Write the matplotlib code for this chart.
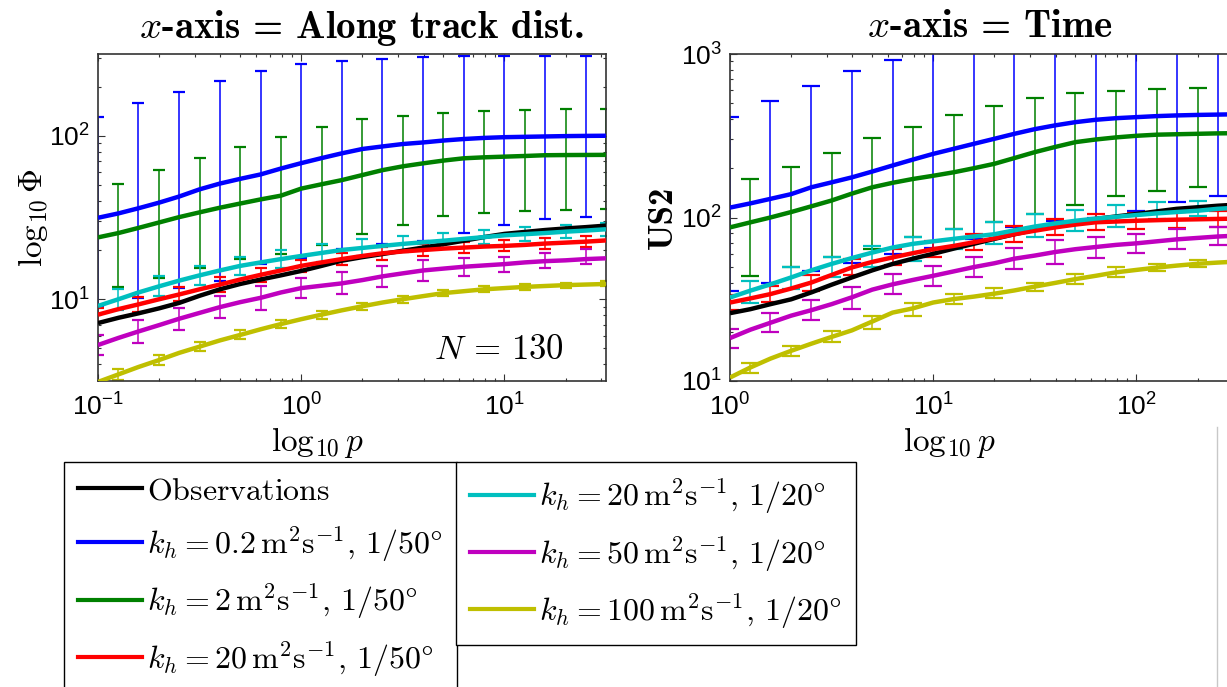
"""
Along-track vs time structure functions for the diffusivity runs.
"""

import numpy as np
import matplotlib.pyplot as plt
from matplotlib.lines import Line2D

plt.rcParams['font.family'] = 'Liberation Sans'
plt.rcParams['mathtext.fontset'] = 'cm'

# p grid, 0.1 decade steps
p_left = [0.1, 0.126, 0.158, 0.2, 0.251, 0.316, 0.398, 0.501, 0.631, 0.794,
          1.0, 1.26, 1.58, 2.0, 2.51, 3.16, 3.98, 5.01, 6.31, 7.94,
          10.0, 12.6, 15.8, 20.0, 25.1, 31.6]
p_right = [1.0, 1.26, 1.58, 2.0, 2.51, 3.16, 3.98, 5.01, 6.31, 7.94,
           10.0, 12.6, 15.8, 20.0, 25.1, 31.6, 39.8, 50.1, 63.1, 79.4,
           100.0, 126.0, 158.0, 200.0, 251.0, 316.0]

labels = [r'$\mathrm{Observations}$',
          r'$k_h = 0.2\,\mathrm{m^2s^{-1}},\,1/50\degree$',
          r'$k_h = 2\,\mathrm{m^2s^{-1}},\,1/50\degree$',
          r'$k_h = 20\,\mathrm{m^2s^{-1}},\,1/50\degree$',
          r'$k_h = 20\,\mathrm{m^2s^{-1}},\,1/20\degree$',
          r'$k_h = 50\,\mathrm{m^2s^{-1}},\,1/20\degree$',
          r'$k_h = 100\,\mathrm{m^2s^{-1}},\,1/20\degree$']
colors = ['k', '#0000ff', '#008000', '#ff0000', '#00bfbf', '#bf00bf', '#bfbf00']

# ---- left panel: x-axis = along track distance
obs_L = [7.15, 7.7, 8.2, 8.8, 9.5, 10.5, 11.5, 12.4, 13.2, 14.0, 14.9, 16.0, 17.2,
         18.1, 18.9, 19.8, 20.7, 21.7, 22.8, 24.0, 25.1, 25.8, 26.5, 27.1, 27.6, 28.2]
blue_L = [31.5, 33.5, 36, 39, 42.5, 47, 51, 54.5, 58, 63, 68, 73, 78,
          83, 86, 89, 91, 93.5, 95.5, 97, 98, 98.5, 99, 99.5, 99.8, 100]
green_L = [23.9, 25.4, 27.3, 29.5, 31.8, 34, 36.3, 38.5, 40.8, 43, 47.5, 50.5, 53.5,
           57.5, 61.6, 65, 67.8, 70.5, 72.8, 73.8, 74.5, 75.2, 76, 76.2, 76.3, 76.4]
red_L = [8.05, 8.7, 9.3, 10.0, 10.7, 11.5, 12.3, 13.2, 14.1, 15.0, 16.0, 16.8, 17.6,
         18.4, 19.1, 19.6, 20.0, 20.4, 20.7, 21.0, 21.2, 21.5, 21.9, 22.2, 22.5, 22.9]
cyan_L = [9.1, 10.0, 11.0, 12.0, 13.0, 14.0, 15.0, 16.0, 16.8, 17.6, 18.4, 19.2, 20.0,
          20.6, 21.2, 21.8, 22.3, 22.8, 23.4, 24.0, 24.6, 25.0, 25.4, 25.9, 26.3, 26.8]
mag_L = [5.25, 5.8, 6.35, 6.95, 7.6, 8.25, 8.95, 9.6, 10.2, 11.0, 11.7, 12.1, 12.5,
         13.1, 13.8, 14.4, 15.0, 15.4, 15.8, 16.1, 16.4, 16.8, 17.1, 17.3, 17.6, 17.8]
yel_L = [3.12, 3.47, 3.85, 4.25, 4.7, 5.13, 5.6, 6.05, 6.55, 7.05, 7.55, 8.05, 8.55,
         9.06, 9.55, 10.0, 10.45, 10.9, 11.2, 11.5, 11.7, 11.9, 12.05, 12.2, 12.3, 12.4]

# error bar ends (blue/red/magenta on even grid points, green/cyan/yellow on odd)
blue_L_lo = [9, 10.2, 11.7, 12.9, 16.4, 18, 20.3, 21.8, 22.8, 25.5, 28.6, 30.8, 31.7]
blue_L_hi = [131, 158, 185, 216, 249, 273, 286, 295, 302, 306, 309, 309, 309]
green_L_lo = [11.8, 13.5, 15.6, 17.6, 18.9, 21.5, 25, 28.5, 32.5, 33.5, 34.6, 35.3, 35.8]
green_L_hi = [51, 62, 73.5, 85, 98, 113, 126, 133, 138, 141, 143, 145, 146]
red_L_lo = [7.3, 8.4, 9.7, 11.1, 12.8, 14.6, 16.1, 17.5, 18.4, 19.1, 19.6, 20.3, 20.9]
red_L_hi = [8.9, 10.3, 11.8, 13.6, 15.5, 17.5, 19.2, 20.8, 21.7, 22.4, 22.9, 23.6, 24.2]
cyan_L_lo = [8.6, 10.4, 12.2, 14.0, 15.5, 17.0, 18.3, 19.5, 20.5, 21.7, 22.7, 23.6, 24.5]
cyan_L_hi = [11.6, 13.8, 16.0, 18.2, 20.0, 21.7, 23.2, 24.5, 25.4, 26.5, 27.5, 28.3, 29.2]
mag_L_lo = [4.56, 5.4, 6.5, 7.7, 8.6, 10.2, 10.7, 11.9, 13.0, 13.9, 14.7, 15.6, 16.4]
mag_L_hi = [6.05, 7.5, 8.9, 10.4, 12.0, 13.5, 14.7, 16.0, 17.3, 18.0, 18.2, 19.3, 20.3]
yel_L_lo = [3.22, 3.97, 4.8, 5.68, 6.65, 7.62, 8.6, 9.53, 10.42, 11.0, 11.45, 11.75, 12.0]
yel_L_hi = [3.72, 4.55, 5.48, 6.44, 7.47, 8.5, 9.55, 10.5, 11.4, 12.0, 12.4, 12.65, 12.85]

# ---- right panel: x-axis = time
obs_R = [26, 27.5, 29.5, 31.6, 34.8, 38.8, 43, 47.5, 52, 56, 60, 64.5, 69,
         74, 79, 84, 89, 93.5, 98, 101.5, 105, 109, 113, 115.5, 118, 120]
blue_R = [115, 122, 130, 139, 153, 164, 176, 191, 208, 226, 245, 263, 282,
          303, 325, 347, 366, 383, 396, 405, 411, 417, 421, 424, 426, 428]
green_R = [87, 93.4, 100, 108, 117, 127, 140, 153, 163, 172, 180, 189, 200,
           213, 231, 251, 270, 289, 300, 309, 316, 321, 323, 325, 327, 328]
red_R = [30.2, 32, 34, 36.8, 40, 44.5, 49.5, 53.5, 57, 60.5, 64, 67, 70.5,
         74.5, 79, 83, 87, 90.5, 93.5, 94.5, 95.5, 96.3, 97, 97.5, 98, 98.5]
cyan_R = [32.4, 35.7, 39, 43, 47.5, 52, 56.5, 61, 65.5, 69, 71.5, 74, 76.5,
          79, 83.5, 88, 92, 95.5, 98.5, 101, 103.5, 106, 108, 110, 113, 115]
mag_R = [18.3, 20.6, 22.7, 25.1, 27.1, 29.5, 32.5, 36.2, 39, 41.5, 44, 46.8, 49.7,
         52.5, 56, 58.5, 61.5, 64, 66, 68, 69.5, 71.5, 73.5, 75, 76.5, 77.5]
yel_R = [10.5, 12.1, 13.7, 15.3, 16.9, 18.6, 20.4, 23.1, 26.2, 27.8, 30.2, 31.7, 32.8,
         34.2, 35.8, 37.8, 39.8, 42, 44, 46.2, 47.8, 49.4, 50.8, 52.1, 53, 53.8]

blue_R_lo = [35.7, 40, 47, 53, 60, 65, 74, 87, 95, 100, 109, 124, 135]
blue_R_hi = [411, 515, 637, 787, 923, 1100, 1250, 1400, 1500, 1550, 1600, 1620, 1650]
green_R_lo = [44, 49.5, 57, 64, 75.5, 85, 93.4, 105, 120, 135, 146, 153, 156]
green_R_hi = [172, 205, 248, 307, 360, 421, 484, 537, 577, 598, 613, 622, 628]
red_R_lo = [27, 30.4, 35.7, 44.2, 51, 57.2, 63, 70.6, 77.8, 83.6, 85.4, 86.7, 87.6]
red_R_hi = [33.8, 38, 44.8, 55.4, 63.8, 71.6, 78.9, 88.4, 97.3, 104.6, 106.8, 108.5, 109.6]
cyan_R_lo = [30.2, 36.5, 43, 49.5, 54.4, 64, 68.9, 75.5, 83, 87, 98, 102.6, 104]
cyan_R_hi = [41, 49.5, 57.5, 67.1, 75.5, 85, 93.4, 105, 111, 120, 125, 127, 130]
mag_R_lo = [16.0, 19.8, 23.5, 27.5, 34, 38.2, 43, 48.3, 51.9, 56.5, 60.3, 64.1, 68.1]
mag_R_hi = [20.7, 26, 31.2, 37.7, 45, 50.7, 57.5, 65, 72.8, 75.5, 79.3, 85, 87]
yel_R_lo = [11.2, 14.2, 17.2, 20.7, 25, 29.5, 32.4, 35.7, 39.1, 43.4, 46.8, 49.5, 51.5]
yel_R_hi = [12.9, 16.4, 20.2, 25, 30.2, 34, 37.3, 40, 45, 49.5, 51.9, 55, 57]

W, H = 1227, 687
fig = plt.figure(figsize=(W / 100, H / 100), dpi=100)
ax1 = fig.add_axes([98 / W, 306 / H, 508 / W, 327 / H])
ax2 = fig.add_axes([730 / W, 306 / H, 508 / W, 327 / H])


def draw_panel(ax, p, lines, bars, capsize):
    p = np.array(p)
    # bars first, thick curves on top
    for (vals, lo, hi, start), c in zip(bars, colors[1:]):
        x = p[start::2]
        m = np.array(vals)[start::2]
        ax.errorbar(x, m, yerr=[m - np.array(lo), np.array(hi) - m], fmt='none',
                    ecolor=c, elinewidth=1.1, capsize=capsize, capthick=1.6, zorder=2)
    for vals, c in zip(lines, colors):
        ax.plot(p, vals, color=c, lw=3.2, zorder=3, solid_capstyle='butt')
    ax.set_xscale('log')
    ax.set_yscale('log')
    ax.tick_params(which='both', direction='in', top=True, right=True,
                   labelsize=19, width=0.8, color='#333333')
    ax.tick_params(which='major', length=5, pad=6)
    ax.tick_params(axis='x', which='major', pad=9)
    ax.tick_params(which='minor', length=2.5)
    for s in ax.spines.values():
        s.set_linewidth(1.2)
        s.set_color('#333333')


draw_panel(ax1, p_left,
           [obs_L, blue_L, green_L, red_L, cyan_L, mag_L, yel_L],
           [(blue_L, blue_L_lo, blue_L_hi, 0), (green_L, green_L_lo, green_L_hi, 1),
            (red_L, red_L_lo, red_L_hi, 0), (cyan_L, cyan_L_lo, cyan_L_hi, 1),
            (mag_L, mag_L_lo, mag_L_hi, 0), (yel_L, yel_L_lo, yel_L_hi, 1)],
           capsize=4.5)
ax1.set_xlim(0.1, 10 ** 1.5)
ax1.set_ylim(10 ** 0.5, 10 ** 2.5)

draw_panel(ax2, p_right,
           [obs_R, blue_R, green_R, red_R, cyan_R, mag_R, yel_R],
           [(blue_R, blue_R_lo, blue_R_hi, 0), (green_R, green_R_lo, green_R_hi, 1),
            (red_R, red_R_lo, red_R_hi, 0), (cyan_R, cyan_R_lo, cyan_R_hi, 1),
            (mag_R, mag_R_lo, mag_R_hi, 0), (yel_R, yel_R_lo, yel_R_hi, 1)],
           capsize=6.5)
ax2.set_xlim(1, 10 ** 2.5)
ax2.set_ylim(10, 1000)

# titles and labels
ax1.text(0.518, 1.08, r'$x$-axis = Along track dist.', transform=ax1.transAxes,
         ha='center', va='center', fontsize=28, family='cmb10')
ax2.text(0.512, 1.08, r'$x$-axis = Time', transform=ax2.transAxes,
         ha='center', va='center', fontsize=28, family='cmb10')
for ax in (ax1, ax2):
    ax.set_xlabel(r'$\log_{10}p$', fontsize=24, va='center')
    ax.xaxis.set_label_coords(0.432, -0.187)
ax1.set_ylabel(r'$\log_{10}\Phi$', fontsize=24, va='center')
ax1.yaxis.set_label_coords(-0.128, 0.5)
ax2.set_ylabel('US2', fontsize=25, family='cmb10', va='center')
ax2.yaxis.set_label_coords(-0.132, 0.5)
ax1.text(0.79, 0.095, r'$N\,=\,130$', transform=ax1.transAxes,
         ha='center', va='center', fontsize=25)

# legends in two boxes
handles = [Line2D([], [], color=c, lw=3) for c in colors]
leg_kw = dict(loc='upper left', bbox_transform=fig.transFigure, borderaxespad=0,
              fontsize=23, frameon=True, fancybox=False, edgecolor='black',
              framealpha=1, handlelength=2.0, handletextpad=0.15,
              labelspacing=0.55, borderpad=0.45)
leg1 = fig.legend(handles[:4], labels[:4], bbox_to_anchor=(64 / W, 1 - 462 / H), **leg_kw)
leg2 = fig.legend(handles[4:], labels[4:], bbox_to_anchor=(456 / W, 1 - 462 / H), **leg_kw)
for leg in (leg1, leg2):
    leg.get_frame().set_linewidth(1.0)

# faint divider at the right edge
fig.add_artist(Line2D([1217 / W, 1217 / W], [0, 1 - 427 / H], transform=fig.transFigure,
                      color='#c8c8c8', lw=1))

fig.savefig('out.png', dpi=100)
